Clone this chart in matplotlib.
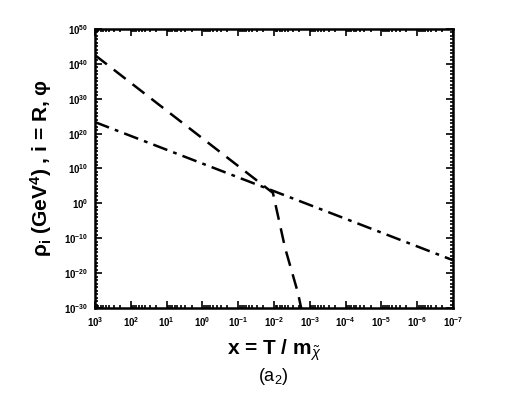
#!/usr/bin/env python3
"""Energy densities rho_i vs x = T / m (panel a2)."""

import numpy as np
import matplotlib
matplotlib.use('Agg')
import matplotlib.pyplot as plt
from matplotlib.ticker import FixedLocator, FuncFormatter, LogLocator, NullFormatter

plt.rcParams['font.family'] = ['Liberation Sans', 'DejaVu Sans']
plt.rcParams['mathtext.fontset'] = 'custom'
plt.rcParams['mathtext.rm'] = 'Liberation Sans'
plt.rcParams['mathtext.bf'] = 'Liberation Sans:bold'
plt.rcParams['mathtext.it'] = 'Liberation Sans:italic'

# values (log10)
x_dash = [3.0, -1.97, -2.31, -2.67, -2.80]
y_dash = [42.5, 3.0, -12.8, -25.7, -32.0]
x_dashdot = [3.0, -7.0]
y_dashdot = [23.3, -16.3]

x_major = list(range(3, -8, -1))
y_major = list(range(-30, 51, 10))


def main():
    fig = plt.figure(figsize=(5.26, 3.93), dpi=100)
    ax = fig.add_axes([0.1806, 0.2163, 0.6806, 0.7099])

    ax.plot(10.0 ** np.array(x_dash), 10.0 ** np.array(y_dash),
            color='black', lw=1.8, dashes=(6, 3.5))
    ax.plot(10.0 ** np.array(x_dashdot), 10.0 ** np.array(y_dashdot),
            color='black', lw=1.8, dashes=(6, 2.5, 1.5, 2.5))

    ax.set_xscale('log')
    ax.set_yscale('log')
    ax.set_xlim(1e3, 1e-7)
    ax.set_ylim(1e-30, 1e50)

    ax.xaxis.set_major_locator(FixedLocator([10.0 ** k for k in x_major]))
    ax.xaxis.set_minor_locator(LogLocator(base=10, subs=np.arange(2, 10), numticks=50))
    ax.yaxis.set_major_locator(FixedLocator([10.0 ** k for k in y_major]))
    ax.yaxis.set_minor_locator(FixedLocator(
        [10.0 ** k for k in range(-30, 51) if k % 10 != 0]))
    ax.xaxis.set_minor_formatter(NullFormatter())
    ax.yaxis.set_minor_formatter(NullFormatter())

    fmt = FuncFormatter(lambda v, p: r'$\mathbf{10^{%d}}$' % round(np.log10(v)))
    ax.xaxis.set_major_formatter(fmt)
    ax.yaxis.set_major_formatter(fmt)

    ax.tick_params(which='both', direction='in', top=True, right=True,
                   labelsize=7, width=1.2)
    ax.tick_params(which='major', length=5, pad=5)
    ax.tick_params(which='minor', length=2.5)
    for s in ax.spines.values():
        s.set_linewidth(1.8)

    ax.set_ylabel(r'$\mathbf{\rho}_\mathregular{i}$ (GeV$^\mathregular{4}$) , i = R, φ',
                  fontsize=15, fontweight='bold', labelpad=7)
    ax.set_xlabel(r'x = T / m$_{\tilde{\chi}}$', fontsize=15,
                  fontweight='bold', labelpad=6)
    fig.text(0.52, 0.03, r'(a$_\mathregular{2}$)', fontsize=13, ha='center')

    plt.savefig('out.png', dpi=100)


if __name__ == '__main__':
    main()
